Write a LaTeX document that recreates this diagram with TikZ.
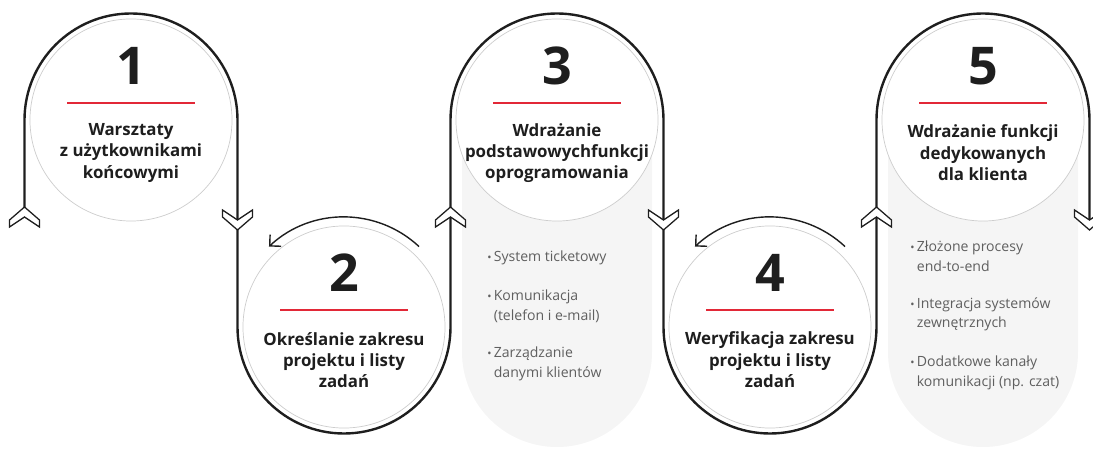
\documentclass[tikz,border=0pt]{standalone}
\usepackage{fontspec}
\setmainfont{Open Sans}
\usepackage{xcolor}
\usepackage{tikz}
\usetikzlibrary{arrows.meta, calc, backgrounds}
\definecolor{stepred}{RGB}{226, 40, 55}
\definecolor{panelgray}{RGB}{245, 245, 245}
\definecolor{circlegray}{RGB}{205, 205, 205}
\definecolor{inkblack}{RGB}{30, 30, 30}
\definecolor{itemgray}{RGB}{95, 95, 95}

\begin{document}
\begin{tikzpicture}[
  x=0.025cm, y=0.025cm,
  stepcircle/.style={circle, draw=circlegray, line width=0.5pt, fill=white, minimum size=5.05cm, inner sep=0pt},
  panel/.style={fill=panelgray},
  serp/.style={draw=inkblack, line width=1.7pt},
  chev/.style={draw=inkblack, fill=white, line width=0.9pt, line join=miter},
  bendarrow/.style={draw=inkblack, line width=1pt, -{Straight Barb[length=2mm, width=4mm]}},
  redline/.style={draw=stepred, line width=0.9pt},
  num/.style={font=\fontsize{37}{40}\selectfont\bfseries, text=inkblack, inner sep=0pt},
  title/.style={font=\fontsize{12}{15.2}\selectfont\bfseries, text=inkblack, align=center, inner sep=0pt},
  item/.style={font=\fontsize{10}{13.6}\selectfont, text=itemgray, align=left, inner sep=0pt, anchor=north west}
]
\useasboundingbox (0,0) rectangle (1093,448);

  % Kroki
  \node[stepcircle] (c1) at (131,328) {};
  \node[stepcircle] (c2) at (344,121) {};
  \node[stepcircle] (c3) at (557,328) {};
  \node[stepcircle] (c4) at (770,121) {};
  \node[stepcircle] (c5) at (983,328) {};

  % Tla pod listami
  \begin{scope}[on background layer]
    \foreach \c in {c3,c5}
      \fill[panel] ($(\c)+(-95,0)$) -- ($(\c)+(-95,-232)$) arc[start angle=180, end angle=360, radius=95] -- ($(\c)+(95,0)$) -- cycle;
  \end{scope}

  % Linia
  \draw[serp] ($(c1)+(-106.5,-87)$) -- ($(c1)+(-106.5,0)$) arc[start angle=180, end angle=0, radius=106.5]
    -- ($(c2)+(-106.5,0)$) arc[start angle=180, end angle=360, radius=106.5]
    -- ($(c3)+(-106.5,0)$) arc[start angle=180, end angle=0, radius=106.5]
    -- ($(c4)+(-106.5,0)$) arc[start angle=180, end angle=360, radius=106.5]
    -- ($(c5)+(-106.5,0)$) arc[start angle=180, end angle=0, radius=106.5]
    -- ($(c5)+(106.5,-110)$);

  \foreach \c in {c1,c3,c5} {
    \draw[chev] ($(\c)+(-106.5,-87)$) -- ++(-15,-13) -- ++(0,-7) -- ++(15,10) -- ++(15,-10) -- ++(0,7) -- cycle;
    \draw[chev] ($(\c)+(106.5,-110)$) -- ++(-15,13) -- ++(0,7) -- ++(15,-10) -- ++(15,10) -- ++(0,-7) -- cycle;
  }

  \foreach \c in {c2,c4}
    \draw[bendarrow] ($(\c)+(47:110)$) arc[start angle=47, end angle=133, radius=110];

  % Numery i tytuly
  \foreach \c in {c1,c2,c3,c4,c5}
    \draw[redline] ($(\c)+(-64,17)$) -- ($(\c)+(64,17)$);

  \node[num] (n1) at ($(c1)+(0,54)$) {1};
  \node[num] (n2) at ($(c2)+(0,54)$) {2};
  \node[num] (n3) at ($(c3)+(0,54)$) {3};
  \node[num] (n4) at ($(c4)+(0,54)$) {4};
  \node[num] (n5) at ($(c5)+(0,54)$) {5};

  \node[title] (t1) at ($(c1)+(0,-33)$) {Warsztaty\\z użytkownikami\\końcowymi};
  \node[title] (t2) at ($(c2)+(0,-33)$) {Określanie zakresu\\projektu i listy\\zadań};
  \node[title] (t3) at ($(c3)+(0,-33)$) {Wdrażanie\\podstawowychfunkcji\\oprogramowania};
  \node[title] (t4) at ($(c4)+(0,-33)$) {Weryfikacja zakresu\\projektu i listy\\zadań};
  \node[title] (t5) at ($(c5)+(0,-33)$) {Wdrażanie funkcji\\dedykowanych\\dla klienta};

  % Listy
  \node[item] (i31) at ($(c3)+(-70,-131)$) {{\footnotesize\textbullet}\,System ticketowy};
  \node[item] (i32) at ($(c3)+(-70,-170)$) {{\footnotesize\textbullet}\,Komunikacja\\\phantom{{\footnotesize\textbullet}\,}(telefon i e-mail)};
  \node[item] (i33) at ($(c3)+(-70,-227)$) {{\footnotesize\textbullet}\,Zarządzanie\\\phantom{{\footnotesize\textbullet}\,}danymi klientów};

  \node[item] (i51) at ($(c5)+(-73,-121)$) {{\footnotesize\textbullet}\,Złożone procesy\\\phantom{{\footnotesize\textbullet}\,}end-to-end};
  \node[item] (i52) at ($(c5)+(-73,-177)$) {{\footnotesize\textbullet}\,Integracja systemów\\\phantom{{\footnotesize\textbullet}\,}zewnętrznych};
  \node[item] (i53) at ($(c5)+(-73,-236)$) {{\footnotesize\textbullet}\,Dodatkowe kanały\\\phantom{{\footnotesize\textbullet}\,}komunikacji (np. czat)};

\end{tikzpicture}
\end{document}
